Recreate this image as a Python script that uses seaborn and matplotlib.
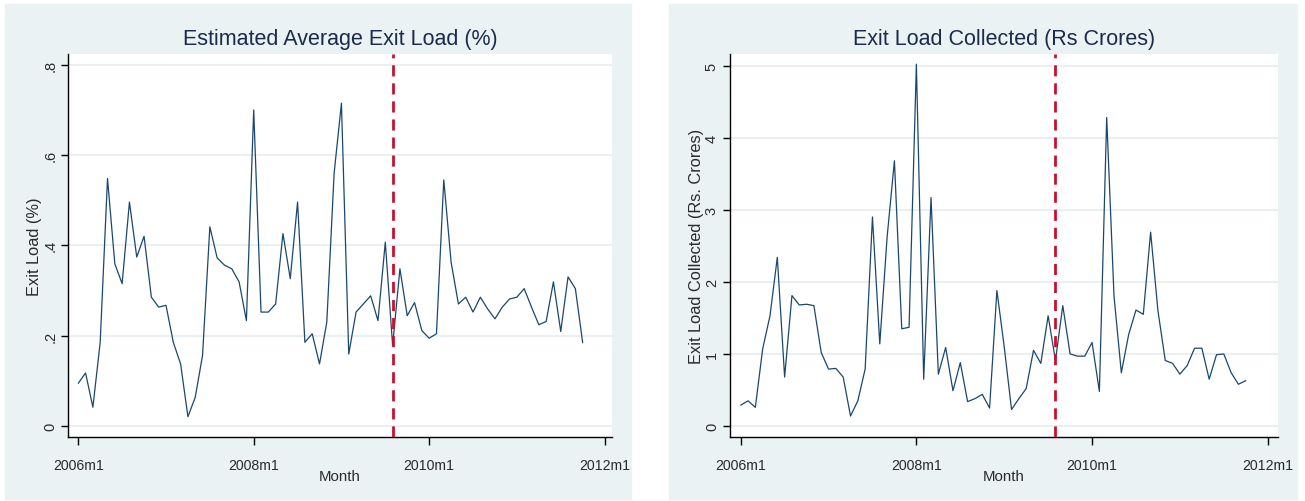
import numpy as np
import pandas as pd
import matplotlib
matplotlib.use("Agg")
import matplotlib.pyplot as plt
from matplotlib.patches import Rectangle
import seaborn as sns

# monthly series, 2006m1 .. 2011m10
months = pd.period_range("2006-01", "2011-10", freq="M")

exit_load_pct = [
    0.094, 0.117, 0.041, 0.185, 0.548, 0.359, 0.315, 0.496, 0.374, 0.420,
    0.285, 0.263, 0.267, 0.185, 0.137, 0.020, 0.063, 0.156, 0.441, 0.372,
    0.356, 0.348, 0.319, 0.233, 0.700, 0.252, 0.252, 0.270, 0.426, 0.326,
    0.496, 0.185, 0.204, 0.137, 0.230, 0.560, 0.715, 0.159, 0.252, 0.270,
    0.288, 0.233, 0.407, 0.178, 0.348, 0.244, 0.273, 0.211, 0.194, 0.204,
    0.545, 0.363, 0.270, 0.285, 0.252, 0.285, 0.259, 0.237, 0.263, 0.281,
    0.285, 0.304, 0.263, 0.224, 0.231, 0.319, 0.209, 0.330, 0.304, 0.184,
]

exit_load_crores = [
    0.29, 0.35, 0.26, 1.07, 1.53, 2.34, 0.68, 1.81, 1.68, 1.69,
    1.67, 1.02, 0.79, 0.80, 0.68, 0.14, 0.35, 0.79, 2.90, 1.14,
    2.62, 3.68, 1.35, 1.37, 5.02, 0.65, 3.17, 0.72, 1.09, 0.49,
    0.88, 0.34, 0.38, 0.44, 0.25, 1.88, 1.10, 0.23, 0.38, 0.52,
    1.05, 0.87, 1.53, 0.91, 1.67, 1.00, 0.97, 0.97, 1.16, 0.48,
    4.28, 1.80, 0.74, 1.27, 1.61, 1.55, 2.69, 1.60, 0.91, 0.87,
    0.72, 0.84, 1.08, 1.08, 0.65, 0.99, 1.00, 0.74, 0.58, 0.63,
]

event_month = pd.Period("2009-08", freq="M")   # dashed marker
xtick_months = ["2006m1", "2008m1", "2010m1", "2012m1"]
left_yticks = [0, 0.2, 0.4, 0.6, 0.8]
left_yticklabels = ["0", ".2", ".4", ".6", ".8"]
right_yticks = [0, 1, 2, 3, 4, 5]
right_yticklabels = ["0", "1", "2", "3", "4", "5"]

base = months[0]
df = pd.DataFrame({
    "t": [(m - base).n for m in months],
    "exit_load": exit_load_pct,
    "collected": exit_load_crores,
})
event_t = (event_month - base).n
xtick_pos = [(pd.Period(s.replace("m", "-"), freq="M") - base).n for s in xtick_months]

sns.set_theme(style="white")
plt.rcParams["font.family"] = ["Liberation Sans", "DejaVu Sans"]

fig = plt.figure(figsize=(13.05, 5.02), dpi=100)
bg = "#eaf2f3"
fig.patches.append(Rectangle((5 / 1305, 2 / 502), 626 / 1305, 495 / 502,
                             transform=fig.transFigure, color=bg, zorder=-10))
fig.patches.append(Rectangle((669 / 1305, 2 / 502), 628 / 1305, 495 / 502,
                             transform=fig.transFigure, color=bg, zorder=-10))

ax1 = fig.add_axes([0.0523, 0.128, 0.4166, 0.7623])
ax2 = fig.add_axes([0.5594, 0.128, 0.4199, 0.7623])

line_col = "#1a476f"
title_col = "#1a2b4c"
text_col = "#2a2a2a"

panels = [
    (ax1, "exit_load", "Estimated Average Exit Load (%)", "Exit Load (%)",
     left_yticks, left_yticklabels, (-0.0244, 0.824), (-1.37, 73.0), 1),
    (ax2, "collected", "Exit Load Collected (Rs Crores)", "Exit Load Collected (Rs. Crores)",
     right_yticks, right_yticklabels, (-0.148, 5.16), (-1.46, 73.4), 0.5),
]

for ax, col, title, ylabel, yt, ytl, ylim, xlim, ylpad in panels:
    ax.set_facecolor("white")
    for v in yt:
        ax.axhline(v, color="#e6eef0", lw=1.2, zorder=0)
    sns.lineplot(data=df, x="t", y=col, ax=ax, color=line_col, lw=0.9)
    ax.axvline(event_t, color="#c8102e", lw=2, ls=(0, (4, 2.5)), zorder=3)
    ax.set_xlim(*xlim)
    ax.set_ylim(*ylim)
    ax.set_xticks(xtick_pos)
    ax.set_xticklabels(xtick_months, fontsize=10.2, color=text_col)
    ax.set_yticks(yt)
    ax.set_yticklabels(ytl, fontsize=10.5, color=text_col, rotation=90, va="center")
    ax.tick_params(axis="x", direction="out", length=6, width=1, color="black",
                   bottom=True, pad=9)
    ax.tick_params(axis="y", direction="out", length=5, width=1, color="black",
                   left=True, pad=3)
    ax.set_xlabel("Month", fontsize=10.8, color=text_col, labelpad=-2)
    ax.set_ylabel(ylabel, fontsize=11.8, color=text_col, labelpad=ylpad)
    ax.set_title(title, fontsize=15.5, color=title_col, pad=7.5)
    sns.despine(ax=ax, top=True, right=True)
    for s in ["left", "bottom"]:
        ax.spines[s].set_color("black")
        ax.spines[s].set_linewidth(1)

fig.savefig("out.png", dpi=100)
